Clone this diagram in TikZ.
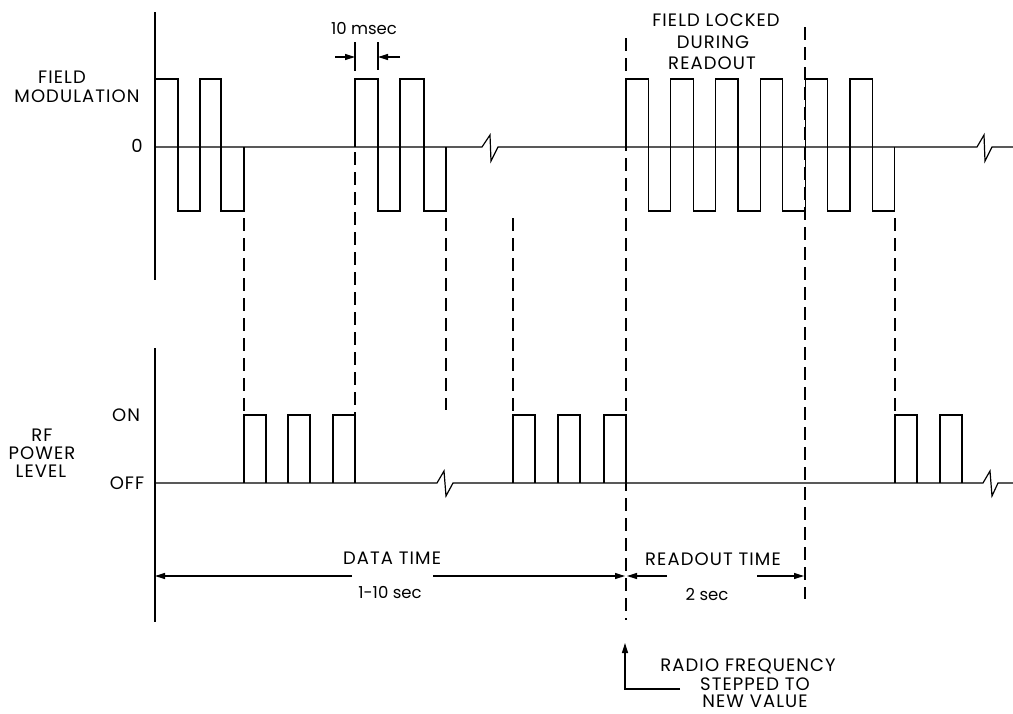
\documentclass[tikz,border=0pt]{standalone}
\usepackage{fontspec}
\setmainfont{Poppins}[LetterSpace=6]
\newfontfamily\numfont{Poppins}
\usetikzlibrary{arrows.meta}
\begin{document}
\begin{tikzpicture}[x=1pt,y=-1pt,line join=miter,
  wave/.style={line width=1.2pt},
  axisline/.style={line width=1.3pt},
  guide/.style={line width=1.2pt,dash pattern=on 13pt off 7pt},
  lbl/.style={font=\fontsize{18}{18}\selectfont,inner sep=0pt,anchor=center},
  small/.style={font=\numfont\fontsize{16.5}{17}\selectfont,inner sep=0pt,anchor=center},
  tip/.style={line width=1.2pt,-{Triangle[length=10pt,width=6pt]}}]
\useasboundingbox (0,0) rectangle (1013,713);
% axes
\draw[axisline] (155,12) -- (155,280);
\draw[axisline] (155,348) -- (155,622);
% field modulation zero line with breaks
\draw[wave] (155,147) -- (482,147) -- (490,135) -- (491,161) -- (498,147)
  -- (977,147) -- (984,135) -- (985,161) -- (992,147) -- (1013,147);
% burst 1
\draw[wave] (155,79) -- (178,79) -- (178,211) -- (200,211) -- (200,79) -- (221,79)
  -- (221,211) -- (244,211) -- (244,147);
% burst 2
\draw[wave] (355,147) -- (355,79) -- (378,79) -- (378,211) -- (400,211) -- (400,79)
  -- (424,79) -- (424,211) -- (446,211) -- (446,147);
% burst 3
\draw[wave] (626,147) -- (626,79) -- (648.4,79) -- (648.4,211) -- (670.8,211) -- (670.8,79)
  -- (693.2,79) -- (693.2,211) -- (715.6,211) -- (715.6,79) -- (738,79) -- (738,211)
  -- (760.4,211) -- (760.4,79) -- (782.8,79) -- (782.8,211) -- (805.2,211) -- (805.2,79)
  -- (827.6,79) -- (827.6,211) -- (850,211) -- (850,79) -- (872.4,79) -- (872.4,211)
  -- (894.8,211) -- (894.8,147);
% RF off line with breaks
\draw[wave] (155,483) -- (437,483) -- (444,471) -- (446,496) -- (453,483)
  -- (983,483) -- (990,471) -- (992,496) -- (998,483) -- (1013,483);
% RF pulses
\foreach \a in {244,288,333,513,558,604,895,940}{
  \draw[wave] (\a,483) -- (\a,415) -- (\a+22,415) -- (\a+22,483);
}
% dashed guides
\draw[guide] (244,218) -- (244,415);
\draw[guide] (355,152) -- (355,415);
\draw[guide] (446,218) -- (446,410);
\draw[guide] (513,218) -- (513,415);
\draw[guide] (626,38) -- (626,620);
\draw[guide] (805,27) -- (805,599);
\draw[guide] (895,218) -- (895,415);
% 10 msec dimension
\coordinate (t1a) at (355,42); \coordinate (t1b) at (355,71);
\coordinate (t2a) at (378,42); \coordinate (t2b) at (378,70);
\draw[wave] (t1a) -- (t1b);
\draw[wave] (t2a) -- (t2b);
\coordinate (m1) at (335,57); \coordinate (m1e) at (355,57);
\coordinate (m2) at (400,57); \coordinate (m2e) at (378,57);
\draw[tip] (m1) -- (m1e);
\draw[tip] (m2) -- (m2e);
% labels
\node[small] (msec) at (364,29) {10 msec};
\node[lbl] (field) at (62,77) {FIELD};
\node[lbl] (modul) at (77,96) {MODULATION};
\node[lbl] (zero) at (137,146) {0};
\node[lbl] (on) at (126,415) {ON};
\node[lbl] (off) at (127,483) {OFF};
\node[lbl] (rf) at (42,435) {RF};
\node[lbl] (power) at (42,453) {POWER};
\node[lbl] (level) at (41,471) {LEVEL};
\node[lbl] (locked) at (716,20) {FIELD LOCKED};
\node[lbl] (during) at (713,42) {DURING};
\node[lbl] (readout) at (712,63) {READOUT};
\node[lbl] (datatime) at (392,558) {DATA TIME};
\node[small] (datasec) at (390,593) {1-10 sec};
\node[lbl] (rotime) at (713,559) {READOUT TIME};
\node[small] (rosec) at (707,594) {2 sec};
\node[lbl] (radio) at (748,666) {RADIO FREQUENCY};
\node[lbl] (stepped) at (755,684) {STEPPED TO};
\node[lbl] (newval) at (755,701) {NEW VALUE};
% time arrows
\coordinate (d0) at (155,576); \coordinate (d1) at (352,576);
\coordinate (d2) at (433,576); \coordinate (d3) at (625,576);
\draw[tip] (d1) -- (d0);
\draw[tip] (d2) -- (d3);
\coordinate (r0) at (627,576); \coordinate (r1) at (667,576);
\coordinate (r2) at (757,576); \coordinate (r3) at (804,576);
\draw[tip] (r1) -- (r0);
\draw[tip] (r2) -- (r3);
% radio frequency pointer
\coordinate (p0) at (680,689); \coordinate (p1) at (625,689); \coordinate (p2) at (625,643);
\draw[tip] (p0) -- (p1) -- (p2);
\end{tikzpicture}
\end{document}
